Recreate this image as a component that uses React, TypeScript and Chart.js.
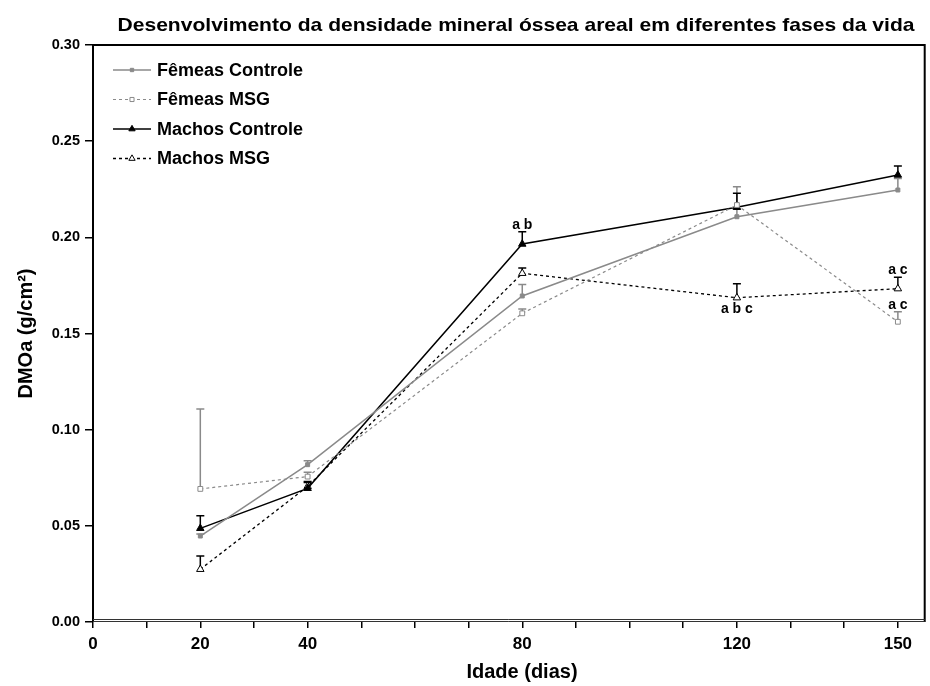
import React, { useEffect, useRef } from 'react';
import { Chart, registerables } from 'chart.js';

Chart.register(...registerables);

// ---------- data ----------
const days = [20, 40, 80, 120, 150];
const seriesNames = ['Fêmeas Controle', 'Fêmeas MSG', 'Machos Controle', 'Machos MSG'];
const femeasControle = [0.0447, 0.0818, 0.1695, 0.2107, 0.2246];
const femeasControleSem = [0.001, 0.002, 0.006, 0.004, 0.006];
const femeasMsg = [0.0692, 0.0756, 0.1605, 0.2168, 0.1561];
const femeasMsgSem = [0.0415, 0.0022, 0.0022, 0.0095, 0.0052];
const machosControle = [0.0487, 0.0695, 0.1965, 0.2156, 0.2324];
const machosControleSem = [0.0066, 0.0035, 0.0064, 0.0073, 0.0047];
const machosMsg = [0.0274, 0.0705, 0.1813, 0.1686, 0.1733];
const machosMsgSem = [0.0069, 0.002, 0.0027, 0.0073, 0.0059];

const xTickLabels = [0, 20, 40, 80, 120, 150];

const annotLabels = ['a b', 'a b c', 'a c', 'a c'];
const annotDay = [80, 120, 150, 150];
const annotSeries = [2, 3, 3, 1];
const annotPlace = ['above', 'below', 'above', 'above'];

const titleText = 'Desenvolvimento da densidade mineral óssea areal em diferentes fases da vida';
const xTitle = 'Idade (dias)';
const yTitle = 'DMOa (g/cm²)';

// ---------- styles ----------
const FONT = "'Liberation Sans', Arial, sans-serif";
const GRAY = '#8a8a8a';
const seriesValues = [femeasControle, femeasMsg, machosControle, machosMsg];
const seriesSem = [femeasControleSem, femeasMsgSem, machosControleSem, machosMsgSem];
const styles = [
  { color: GRAY, dash: [] as number[], shape: 'rect', fill: GRAY, radius: 2.8, width: 1.5 },
  { color: GRAY, dash: [3, 3], shape: 'rect', fill: '#ffffff', radius: 3.4, width: 1.2 },
  { color: '#000000', dash: [] as number[], shape: 'triangle', fill: '#000000', radius: 4.3, width: 1.5 },
  { color: '#000000', dash: [3, 3], shape: 'triangle', fill: '#ffffff', radius: 4.3, width: 1.3 },
];

function drawMarker(ctx: CanvasRenderingContext2D, shape: string, x: number, y: number, r: number, stroke: string, fill: string) {
  ctx.save();
  ctx.setLineDash([]);
  ctx.lineWidth = 1;
  ctx.strokeStyle = stroke;
  ctx.fillStyle = fill;
  ctx.beginPath();
  if (shape === 'rect') {
    const s = Math.SQRT1_2 * r;
    ctx.rect(x - s, y - s, 2 * s, 2 * s);
  } else {
    ctx.moveTo(x, y - r);
    ctx.lineTo(x + r * 0.866, y + r * 0.5);
    ctx.lineTo(x - r * 0.866, y + r * 0.5);
    ctx.closePath();
  }
  ctx.fill();
  ctx.stroke();
  ctx.restore();
}

function stretchedText(ctx: CanvasRenderingContext2D, text: string, cx: number, y: number, targetWidth: number) {
  const w = ctx.measureText(text).width;
  const sx = targetWidth / w;
  ctx.save();
  ctx.translate(cx, y);
  ctx.scale(sx, 1);
  ctx.textAlign = 'center';
  ctx.fillText(text, 0, 0);
  ctx.restore();
}

const decorPlugin = {
  id: 'decor',
  beforeDatasetsDraw(chart: any) {
    const ctx: CanvasRenderingContext2D = chart.ctx;
    const yS = chart.scales.y;
    chart.data.datasets.forEach((ds: any, di: number) => {
      const meta = chart.getDatasetMeta(di);
      const st = styles[di];
      ctx.save();
      ctx.strokeStyle = st.color;
      ctx.lineWidth = 1.5;
      ctx.setLineDash([]);
      meta.data.forEach((pt: any, i: number) => {
        const top = yS.getPixelForValue(seriesValues[di][i] + seriesSem[di][i]);
        ctx.beginPath();
        ctx.moveTo(pt.x, pt.y);
        ctx.lineTo(pt.x, top);
        ctx.moveTo(pt.x - 4, top);
        ctx.lineTo(pt.x + 4, top);
        ctx.stroke();
      });
      ctx.restore();
    });
  },
  afterDraw(chart: any) {
    const ctx: CanvasRenderingContext2D = chart.ctx;
    const a = chart.chartArea;
    const xS = chart.scales.x;
    const yS = chart.scales.y;
    ctx.save();
    // frame
    ctx.strokeStyle = '#000';
    ctx.lineWidth = 2;
    ctx.setLineDash([]);
    ctx.beginPath();
    ctx.moveTo(a.left, a.bottom);
    ctx.lineTo(a.left, a.top);
    ctx.lineTo(a.right, a.top);
    ctx.lineTo(a.right, a.bottom);
    ctx.stroke();
    ctx.lineWidth = 1;
    ctx.strokeStyle = '#333';
    ctx.beginPath();
    ctx.moveTo(a.left, a.bottom - 2.5);
    ctx.lineTo(a.right, a.bottom - 2.5);
    ctx.moveTo(a.left, a.bottom - 0.5);
    ctx.lineTo(a.right, a.bottom - 0.5);
    ctx.stroke();

    // title
    ctx.fillStyle = '#000';
    ctx.font = `bold 19px ${FONT}`;
    ctx.textBaseline = 'alphabetic';
    stretchedText(ctx, titleText, 516, 31, 797);

    // axis titles
    ctx.font = `bold 20px ${FONT}`;
    ctx.textAlign = 'center';
    ctx.textBaseline = 'middle';
    ctx.fillText(xTitle, 522, 672);
    ctx.save();
    ctx.translate(26, (a.top + a.bottom) / 2);
    ctx.rotate(-Math.PI / 2);
    ctx.fillText(yTitle, 0, 0);
    ctx.restore();

    // legend
    styles.forEach((st, i) => {
      const y = 70 + i * 29.5;
      ctx.save();
      ctx.strokeStyle = st.color;
      ctx.lineWidth = st.width;
      ctx.setLineDash(st.dash);
      ctx.beginPath();
      ctx.moveTo(113, y);
      ctx.lineTo(151, y);
      ctx.stroke();
      ctx.restore();
      drawMarker(ctx, st.shape, 132, y, st.radius * 0.85, st.color, st.fill);
      ctx.fillStyle = '#000';
      ctx.font = `bold 18px ${FONT}`;
      ctx.textAlign = 'left';
      ctx.textBaseline = 'middle';
      ctx.fillText(seriesNames[i], 157, y + 1);
    });

    // annotations
    ctx.font = `bold 14px ${FONT}`;
    ctx.textAlign = 'center';
    ctx.textBaseline = 'middle';
    annotLabels.forEach((lab, k) => {
      const si = annotSeries[k];
      const idx = days.indexOf(annotDay[k]);
      const x = xS.getPixelForValue(annotDay[k]);
      let y: number;
      if (annotPlace[k] === 'above') {
        y = yS.getPixelForValue(seriesValues[si][idx] + seriesSem[si][idx]) - 7;
      } else {
        y = yS.getPixelForValue(seriesValues[si][idx]) + 11;
      }
      ctx.fillText(lab, x, y);
    });
    ctx.restore();
  },
};

export default function App() {
  const ref = useRef<HTMLCanvasElement | null>(null);
  useEffect(() => {
    if (!ref.current) return;
    Chart.defaults.font.family = FONT;
    Chart.defaults.color = '#000';
    const chart = new Chart(ref.current, {
      type: 'line',
      data: {
        datasets: seriesNames.map((name, di) => ({
          label: name,
          data: days.map((d, i) => ({ x: d, y: seriesValues[di][i] })),
          borderColor: styles[di].color,
          borderWidth: styles[di].width,
          borderDash: styles[di].dash,
          pointStyle: styles[di].shape as any,
          pointRadius: styles[di].radius,
          pointBackgroundColor: styles[di].fill,
          pointBorderColor: styles[di].color,
          pointBorderWidth: 1,
          tension: 0,
          fill: false,
        })),
      },
      options: {
        animation: false,
        responsive: false,
        layout: { padding: { top: 45, right: 3, left: 0, bottom: 0 } },
        plugins: { legend: { display: false }, title: { display: false }, tooltip: { enabled: false } },
        scales: {
          x: {
            type: 'linear',
            min: 0,
            max: 155,
            afterFit: (s: any) => { s.height = 64; },
            border: { display: false },
            grid: { drawOnChartArea: false, drawTicks: true, tickLength: 6, color: '#000', lineWidth: 1.5 },
            ticks: {
              stepSize: 10,
              includeBounds: false,
              autoSkip: false,
              maxRotation: 0,
              padding: 6,
              color: '#000',
              font: { size: 17, weight: 'bold' },
              callback: (v: any) => (xTickLabels.includes(Number(v)) ? String(v) : ''),
            },
          },
          y: {
            min: 0,
            max: 0.3,
            afterFit: (s: any) => { s.width = 93; },
            border: { display: false },
            grid: { drawOnChartArea: false, drawTicks: true, tickLength: 8, color: '#000', lineWidth: 1.5 },
            ticks: {
              stepSize: 0.05,
              padding: 5,
              color: '#000',
              font: { size: 14.5, weight: 'bold' },
              callback: (v: any) => Number(v).toFixed(2),
            },
          },
        },
      },
      plugins: [decorPlugin],
    });
    return () => chart.destroy();
  }, []);
  return (
    <div style={{ position: 'fixed', left: 0, top: 0, width: 930, height: 686, background: '#fff' }}>
      <canvas ref={ref} width={930} height={686} style={{ display: 'block' }} />
    </div>
  );
}
